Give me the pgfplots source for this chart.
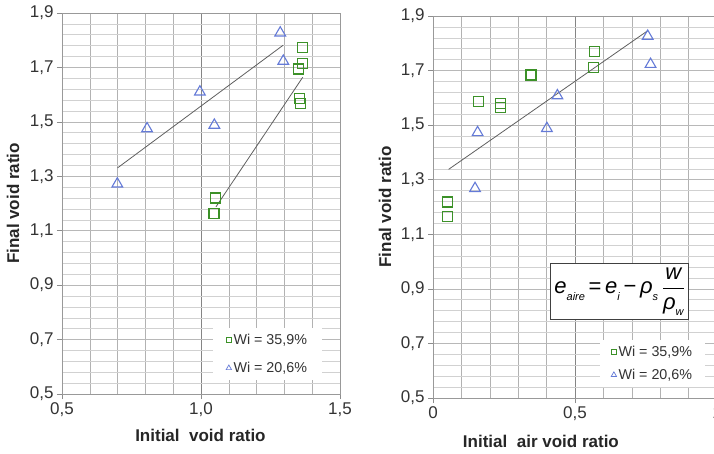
\documentclass[border=0pt]{standalone}
\usepackage{amsmath}
\usepackage{fontspec}
\setmainfont{Liberation Sans}
\usepackage{pgfplots}
\pgfplotsset{compat=1.18}

\definecolor{mgreen}{RGB}{60,145,40}
\definecolor{mblue}{RGB}{100,122,215}
\definecolor{trend}{RGB}{95,95,95}

\newcommand{\sub}[1]{\raisebox{-0.3em}{\fontsize{11}{11}\selectfont\itshape #1}}

\pgfplotsset{
  common/.style={
    scale only axis,
    ymin=0.5, ymax=1.9,
    ytick={0.5,0.7,0.9,1.1,1.3,1.5,1.7,1.9},
    minor y tick num=4,
    minor x tick num=4,
    grid=both,
    major x grid style={black!48, line width=0.6pt},
    minor x grid style={black!30, line width=0.6pt},
    major y grid style={black!28, line width=0.6pt},
    minor y grid style={black!18, line width=0.6pt},
    axis line style={black!40, line width=0.6pt},
    tick align=outside,
    major tick length=5pt,
    minor tick length=0pt,
    tick style={black!45, line width=0.6pt},
    xtick pos=left, ytick pos=left,
    /pgf/number format/use comma,
    /pgf/number format/fixed,
    /pgf/number format/precision=1,
    /pgf/number format/fixed zerofill,
    /pgf/number format/assume math mode=true,
    tick label style={font=\fontsize{17}{17}\selectfont, text=black!80},
    label style={font=\bfseries\fontsize{17}{17}\selectfont, text=black!85},
    legend cell align=left,
    legend style={draw=none, fill=white, font=\fontsize{14.3}{14.5}\selectfont, text=black!80},
  },
  sq/.style={only marks, mark=square, mark size=5pt, draw=mgreen, line width=1.2pt,
    mark options={draw=mgreen, solid},
    legend image code/.code={\draw[draw=mgreen, line width=0.7pt, only marks, mark=square, mark size=2.6pt, mark options={draw=mgreen}] plot coordinates {(0.1cm,0cm)};}},
  tri/.style={only marks, mark=triangle, mark size=6.2pt, draw=mblue, line width=1.1pt,
    mark options={draw=mblue, solid},
    legend image code/.code={\draw[draw=mblue, line width=0.7pt, only marks, mark=triangle, mark size=3.1pt, mark options={draw=mblue}] plot coordinates {(0.1cm,0cm)};}},
  tl/.style={no marks, draw=trend, line width=0.8pt, forget plot},
}

\begin{document}
\begin{tikzpicture}
% ---------------- left panel ----------------
\begin{axis}[common,
  at={(62pt,59pt)}, anchor=south west,
  width=278pt, height=381pt,
  xmin=0.5, xmax=1.5,
  xtick={0.5,1.0,1.5},
  xlabel={Initial\ \ void ratio},
  ylabel={Final void ratio},
  xlabel style={at={(axis description cs:0.498,-0.109)}, anchor=center},
  ylabel style={at={(axis description cs:-0.176,0.5)}, anchor=center},
  legend style={at={(rel axis cs:0.543,0.173)}, anchor=north west,
    inner xsep=13pt, inner ysep=4pt, row sep=12pt},
]
\addplot[tl] coordinates {(0.700,1.331) (1.296,1.782)};
\addplot[tl] coordinates {(1.054,1.188) (1.366,1.664)};
\addplot[sq] coordinates {
  (1.364,1.774) (1.364,1.715) (1.351,1.694) (1.355,1.587) (1.357,1.568)
  (1.052,1.220) (1.047,1.163)};
\addlegendentry{Wi = 35,9\%}
\addplot[tri] coordinates {
  (0.699,1.272) (0.806,1.475) (0.996,1.610) (1.048,1.488) (1.285,1.827) (1.296,1.723)};
\addlegendentry{Wi = 20,6\%}
\end{axis}

% ---------------- right panel ----------------
\begin{axis}[common,
  at={(433pt,55pt)}, anchor=south west,
  width=284pt, height=382pt,
  xmin=0, xmax=1,
  xtick={0,0.5,1},
  xticklabel style={/pgf/number format/fixed zerofill=false},
  xlabel={Initial\ \ air void ratio},
  ylabel={Final void ratio},
  xlabel style={at={(axis description cs:0.38,-0.113)}, anchor=center},
  ylabel style={at={(axis description cs:-0.169,0.5)}, anchor=center},
  legend style={at={(rel axis cs:0.588,0.152)}, anchor=north west,
    inner xsep=11pt, inner ysep=4pt, row sep=7pt},
]
\addplot[tl] coordinates {(0.055,1.338) (0.756,1.846)};
\addplot[sq] coordinates {
  (0.051,1.218) (0.050,1.165) (0.160,1.586) (0.237,1.578) (0.237,1.565)
  (0.345,1.684) (0.568,1.770) (0.566,1.712)};
\addlegendentry{Wi = 35,9\%}
\addplot[tri] coordinates {
  (0.148,1.268) (0.157,1.473) (0.401,1.488) (0.438,1.608) (0.756,1.826) (0.766,1.723)};
\addlegendentry{Wi = 20,6\%}
\node[draw=black!75, line width=0.8pt, fill=white, inner xsep=4pt, inner ysep=4pt,
      font=\fontsize{22}{23}\selectfont, text=black]
  at (axis cs:0.657,0.889)
  {{\itshape e}\sub{aire}\,=\,{\itshape e}\sub{i}\,−\,{\itshape ρ}\sub{s}\,$\dfrac{\text{\itshape w}\rule[-3pt]{0pt}{0pt}}{\rule{0pt}{18pt}\text{\itshape ρ\sub{w}}}$};
\end{axis}

\pgfresetboundingbox
\path[use as bounding box] (0pt,0pt) rectangle (714pt,453pt);
\end{tikzpicture}
\end{document}
